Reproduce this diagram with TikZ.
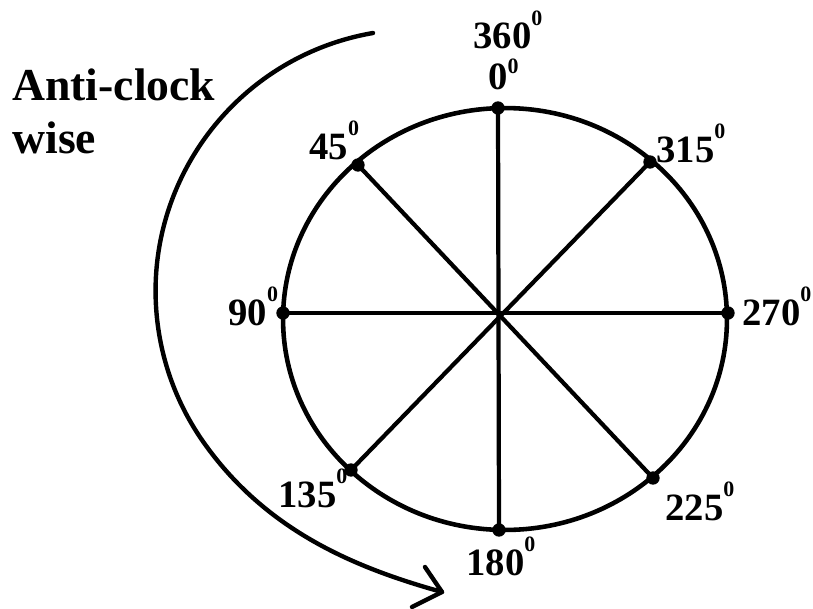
\documentclass[tikz,border=0pt]{standalone}
\usepackage{fontspec}
\setmainfont{Liberation Serif}
\usetikzlibrary{shapes.geometric}
\newcommand{\degsup}[1][0.6em]{\smash{\raisebox{#1}{\fontsize{12.5}{12.5}\selectfont 0}}}
\tikzset{
  dot/.style={circle, fill=black, inner sep=0pt, minimum size=7.6pt},
  spoke/.style={line width=2.4pt},
  lbl/.style={anchor=base west, inner sep=0pt, font=\fontsize{22}{22}\selectfont\bfseries},
  big/.style={anchor=base west, inner sep=0pt, font=\fontsize{26}{26}\selectfont\bfseries},
}
\begin{document}
\begin{tikzpicture}[x=0.02cm, y=-0.02cm]
\useasboundingbox (0,0) rectangle (813,608);
% outer ring
\node[draw, ellipse, line width=2.6pt, inner sep=0pt, minimum width=8.88cm, minimum height=8.44cm] (ring) at (505,319) {};
% points
\node[dot] (p0) at (498,108) {};
\node[dot] (p45) at (358,165) {};
\node[dot] (p90) at (283,313) {};
\node[dot] (p135) at (351,470) {};
\node[dot] (p180) at (499,530) {};
\node[dot] (p225) at (653,478) {};
\node[dot] (p270) at (728,313) {};
\node[dot] (p315) at (650,162) {};
% spokes
\draw[spoke] (p0.center) -- (p180.center);
\draw[spoke] (p90.center) -- (p270.center);
\draw[spoke] (p45.center) -- (p225.center);
\draw[spoke] (p315.center) -- (p135.center);
% labels
\node[lbl] (l360) at (473,49) {360\degsup};
\node[lbl] (l0) at (488,90) {0\degsup[0.42em]};
\node[lbl] (l45) at (309,159) {45\degsup};
\node[lbl] (l315) at (656,162) {315\degsup};
\node[lbl] (l90) at (228,325) {90\degsup};
\node[lbl] (l270) at (742,325) {270\degsup};
\node[lbl] (l135) at (278,507) {135\degsup};
\node[lbl] (l225) at (665,520) {225\degsup};
\node[lbl] (l180) at (466,575) {180\degsup};
\node[big] (t1) at (12,100) {Anti-clock};
\node[big] (t2) at (12,153) {wise};
% rotation arrow
\coordinate (start) at (373,33);
\coordinate (tip) at (442,592);
\coordinate (b1) at (425,567);
\coordinate (b2) at (412,607);
\draw[line width=2.5pt, line cap=round]
  (start) arc[start angle=260.2, end angle=145, radius=262]
  .. controls +(0.574*110,0.819*110) and (356,568) .. (tip);
\draw[line width=2.5pt, line cap=round, line join=round] (b1) -- (tip) -- (b2);
\end{tikzpicture}
\end{document}
